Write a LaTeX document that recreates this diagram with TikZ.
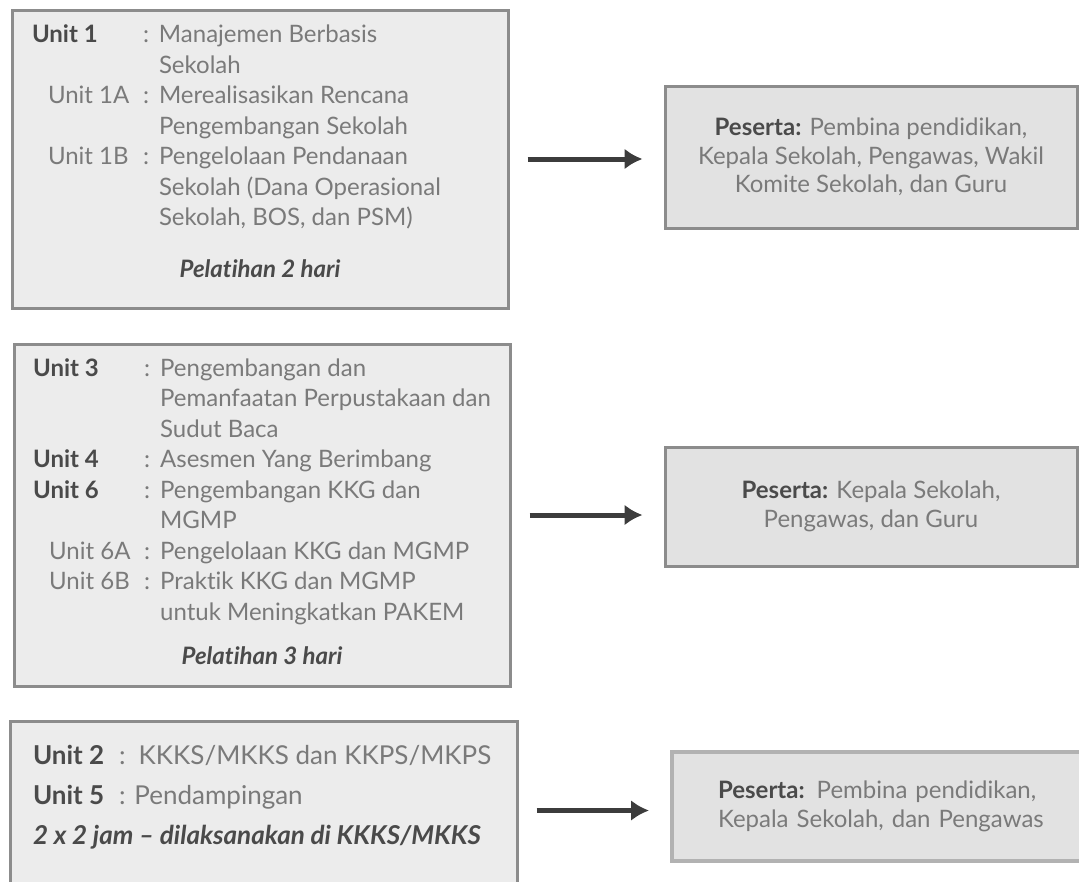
\documentclass[tikz,border=0pt]{standalone}
\usepackage{fontspec}
\setmainfont{Lato}[Ligatures=NoCommon]
\usetikzlibrary{arrows.meta}

\definecolor{unitfill}{HTML}{ECECEC}
\definecolor{pesertafill}{HTML}{E2E2E2}
\definecolor{boxline}{HTML}{8C8C8C}
\definecolor{lightline}{HTML}{B2B2B2}
\definecolor{plaintext}{HTML}{7A7A7A}
\definecolor{boldtext}{HTML}{4A4A4A}
\definecolor{arrowgray}{HTML}{3C3C3C}

\newcommand{\unitname}[1]{\textcolor{boldtext}{\textbf{#1}}}
\newcommand{\pelatihan}[1]{\textcolor{boldtext}{\textbf{\textit{#1}}}}

\tikzset{
  unitbox/.style={draw=boxline,fill=unitfill,line width=3pt,inner sep=0pt,text=plaintext,font=\fontsize{24}{30.5}\selectfont},
  pesertabox/.style={draw=boxline,fill=pesertafill,line width=3pt,inner sep=0pt,text=plaintext,align=center,font=\fontsize{24}{28.5}\selectfont},
  flow/.style={-{Latex[length=18pt,width=21pt]},line width=5pt,draw=arrowgray,shorten <=18pt,shorten >=21pt}
}

\begin{document}
\begin{tikzpicture}[x=1pt,y=-1pt]
    \useasboundingbox (0,0) rectangle (1079,881);
    \node [unitbox,minimum width=496pt,minimum height=298pt] (unitsA) at (260,159) {%
      \begin{tabular}{@{}p{111pt}@{}p{16pt}@{}l@{}}
        \unitname{Unit 1} & : & Manajemen Berbasis\\
         & & Sekolah\\
        \hspace{16pt}Unit 1A & : & Merealisasikan Rencana\\
         & & Pengembangan Sekolah\\
        \hspace{16pt}Unit 1B & : & Pengelolaan Pendanaan\\
         & & Sekolah (Dana Operasional\\
         & & Sekolah, BOS, dan PSM)\\[21.5pt]
        \multicolumn{3}{@{}c@{}}{\makebox[456pt]{\pelatihan{Pelatihan 2 hari}}}\\[10pt]
      \end{tabular}};
    \node [pesertabox,minimum width=412pt,minimum height=142pt,right of=unitsA,node distance=611pt,yshift=2pt] (pesertaA) {\unitname{Peserta:} Pembina pendidikan,\\Kepala Sekolah, Pengawas, Wakil\\Komite Sekolah, dan Guru};
    \node [unitbox,minimum width=496pt,minimum height=342pt,below of=unitsA,node distance=356pt,xshift=2pt] (unitsB) {%
      \begin{tabular}{@{}p{111pt}@{}p{16pt}@{}l@{}}
        \unitname{Unit 3} & : & Pengembangan dan\\
         & & Pemanfaatan Perpustakaan dan\\
         & & Sudut Baca\\
        \unitname{Unit 4} & : & Asesmen Yang Berimbang\\
        \unitname{Unit 6} & : & Pengembangan KKG dan\\
         & & MGMP\\
        \hspace{16pt}Unit 6A & : & Pengelolaan KKG dan MGMP\\
        \hspace{16pt}Unit 6B & : & Praktik KKG dan MGMP\\
         & & untuk Meningkatkan PAKEM\\[14pt]
        \multicolumn{3}{@{}c@{}}{\makebox[456pt]{\pelatihan{Pelatihan 3 hari}}}\\[1pt]
      \end{tabular}};
    \node [pesertabox,minimum width=412pt,minimum height=119pt,right of=unitsB,node distance=609pt,yshift=8.5pt] (pesertaB) {\unitname{Peserta:} Kepala Sekolah,\\Pengawas, dan Guru};
    \node [unitbox,minimum width=507pt,minimum height=179pt,below of=unitsB,node distance=295.5pt,xshift=1.5pt,font=\fontsize{26}{30.5}\selectfont] (unitsC) {%
      \begin{tabular}{@{}p{86pt}@{}l@{}}
        \unitname{Unit 2} & :\, KKKS/MKKS dan KKPS/MKPS\\[9.5pt]
        \unitname{Unit 5} & : Pendampingan\\[9.5pt]
        \multicolumn{2}{@{}l@{}}{\makebox[461pt][l]{\pelatihan{2 x 2 jam -- dilaksanakan di KKKS/MKKS}}}\\[24pt]
      \end{tabular}};
    \node [pesertabox,draw=lightline,line width=4pt,minimum width=420pt,minimum height=109pt,text width=328pt,align=left,right of=unitsC,node distance=618.5pt,yshift=4pt] (pesertaC) {\unitname{Peserta:} Pembina pendidikan,\\Kepala Sekolah, dan Pengawas};
    \draw [flow] (unitsA.east) -- (unitsA.east -| pesertaA.west);
    \draw [flow] (unitsB.east) -- (unitsB.east -| pesertaB.west);
    \draw [flow] (unitsC.east) -- (unitsC.east -| pesertaC.west);
\end{tikzpicture}
\end{document}
